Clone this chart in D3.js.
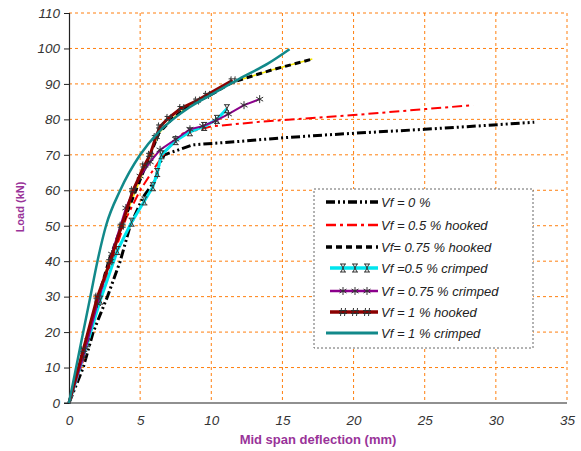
<!DOCTYPE html>
<html>
<head>
<meta charset="utf-8">
<script src="https://cdn.jsdelivr.net/npm/d3@7"></script>
<style>
  body { margin: 0; background: #fff; }
  text { font-family: "Liberation Sans", Arial, sans-serif; }
</style>
</head>
<body>
<svg width="581" height="451"></svg>
<script>
// load (kN) vs mid span deflection (mm), one array per mix
const vf0 = [[0,0],[1,10],[1.7,20],[2.7,30],[3.6,40],[4.3,50],[5.2,58],[6.1,63],[6.3,67],[6.7,70],[8.7,72.8],[12,73.8],[15,74.8],[18,75.6],[21,76.3],[25,77.2],[29,78.2],[32.7,79.2]];
const vf05h = [[0,0],[1,12],[2,27],[3,40],[4,52],[5,60],[5.8,65],[6.3,68],[7,72],[8,76],[10,78],[13.4,79.3],[20,81.2],[25,82.9],[28.4,84]];
const vf075h = [[0,0],[1,14],[2,29],[2.8,40],[3.7,50],[4.5,58],[5.2,65],[5.7,70],[6.3,76],[7.2,80],[8.5,84],[10,87],[11.5,90.5],[14.3,94],[17.1,97]];
const vf05c = [[0,0],[1.3,17],[2.2,29],[3.4,43],[4.4,51],[5.3,57],[5.9,61],[6.2,65],[6.5,70],[7.5,74],[8.5,76.5],[9.5,78],[10.4,80],[11.1,83]];
const vf075c = [[0,0],[1,13],[2,28],[3,42],[4,55],[5,64],[5.7,68],[6.4,71.4],[7.5,74.4],[8.5,77.2],[9.4,78.1],[10.3,79.6],[11.2,81.5],[12.3,84],[13.4,85.7]];
const vf1h = [[0,0],[1,15],[2,30],[2.9,40],[3.7,50],[4.5,60],[5.3,67],[5.7,70],[6.1,75],[6.4,78],[7,80.4],[7.9,83.2],[9,85.3],[9.7,86.9],[11.5,91]];
const vf1c = [[0,0],[0.5,10],[1,20],[1.5,30],[2,40],[2.6,50],[3.6,60],[5,70],[6.2,76],[7.3,80],[8.5,83.5],[10,87],[12,91.5],[14,95.8],[15.5,99.8]];

const xTicks = [0, 5, 10, 15, 20, 25, 30, 35];
const yTicks = [0, 10, 20, 30, 40, 50, 60, 70, 80, 90, 100, 110];

const series = [
  { name: 'Vf = 0 %', data: vf0, color: '#000', width: 3, dash: '9,3,2,3,2,3', curve: d3.curveLinear },
  { name: 'Vf = 0.5 % hooked', data: vf05h, color: '#ff0000', width: 2, dash: '10,4,3,4', curve: d3.curveLinear },
  { name: 'Vf= 0.75 % hooked', data: vf075h, color: '#000', width: 3, dash: '6,4', curve: d3.curveLinear, under: '#f5e600' },
  { name: 'Vf =0.5 % crimped', data: vf05c, color: '#00e5ee', width: 3, marker: 'x', curve: d3.curveLinear },
  { name: 'Vf = 0.75 % crimped', data: vf075c, color: '#8b008b', width: 2, marker: 'star', curve: d3.curveLinear },
  { name: 'Vf = 1 % hooked', data: vf1h, color: '#8b0000', width: 3, marker: 'hash', curve: d3.curveLinear },
  { name: 'Vf = 1 % crimped', data: vf1c, color: '#12898a', width: 2.5, curve: d3.curveMonotoneX }
];

const svg = d3.select('svg'),
  margin = { top: 13, left: 69 },
  width = 498,
  height = 390;

const x = d3.scaleLinear().domain([0, 35]).range([0, width]);
const y = d3.scaleLinear().domain([0, 110]).range([height, 0]);

const g = svg.append('g')
  .attr('transform', 'translate(' + margin.left + ',' + margin.top + ')');

// orange dashed grid
const grid = g.append('g').attr('stroke', '#ff7f0e').attr('stroke-width', 1).attr('stroke-dasharray', '3,3');
grid.selectAll('.gx').data(xTicks.slice(1)).enter().append('line')
  .attr('x1', d => x(d)).attr('x2', d => x(d)).attr('y1', 0).attr('y2', height);
grid.selectAll('.gy').data(yTicks.slice(1)).enter().append('line')
  .attr('x1', 0).attr('x2', width).attr('y1', d => y(d)).attr('y2', d => y(d));

// axes
const yAxis = g.append('g')
  .call(d3.axisLeft(y).tickValues(yTicks).tickSize(5).tickPadding(4));
const xAxis = g.append('g')
  .attr('transform', 'translate(0,' + height + ')')
  .call(d3.axisBottom(x).tickValues(xTicks).tickSize(0).tickPadding(12));
[yAxis, xAxis].forEach(a => {
  a.select('.domain').attr('stroke', '#222').attr('stroke-width', 1.2);
  a.selectAll('.tick line').attr('stroke', '#222');
  a.selectAll('text').attr('font-size', 13.5).attr('font-style', 'italic').attr('fill', '#333');
});
xAxis.select('.domain').attr('d', 'M-5,0H' + width);

// markers
function drawMarker(sel, type) {
  let d = '';
  if (type === 'x') d = 'M-3,-4H3M-3,4H3M-2,-4L2,4M2,-4L-2,4';
  else if (type === 'star') d = 'M0,-4V4M-3.5,-2L3.5,2M-3.5,2L3.5,-2';
  else if (type === 'hash') d = 'M-1.5,-4L-2.5,4M2.5,-4L1.5,4M-4,-1.5H4M-4,1.5H4';
  sel.append('path').attr('d', d)
    .attr('stroke', '#333').attr('stroke-width', 1).attr('fill', 'none');
}

series.forEach(s => {
  const line = d3.line().x(d => x(d[0])).y(d => y(d[1])).curve(s.curve);
  if (s.under) {
    g.append('path').datum(s.data).attr('d', line)
      .attr('fill', 'none').attr('stroke', s.under).attr('stroke-width', 1.5);
  }
  g.append('path').datum(s.data).attr('d', line)
    .attr('fill', 'none').attr('stroke', s.color).attr('stroke-width', s.width)
    .attr('stroke-dasharray', s.dash || null).attr('stroke-linejoin', 'round');
  if (s.marker) {
    g.selectAll(null).data(s.data.slice(1)).enter().append('g')
      .attr('transform', d => 'translate(' + x(d[0]) + ',' + y(d[1]) + ')')
      .each(function () { drawMarker(d3.select(this), s.marker); });
  }
});

// axis titles
svg.append('text')
  .attr('transform', 'translate(24,207) rotate(-90)')
  .attr('text-anchor', 'middle')
  .attr('font-size', 11).attr('font-weight', 'bold').attr('fill', '#993399')
  .text('Load (kN)');
svg.append('text')
  .attr('x', 318).attr('y', 444)
  .attr('text-anchor', 'middle')
  .attr('font-size', 13).attr('font-weight', 'bold').attr('fill', '#993399')
  .text('Mid span deflection (mm)');

// legend
const legend = svg.append('g');
legend.append('rect')
  .attr('x', 314).attr('y', 189).attr('width', 219).attr('height', 159)
  .attr('fill', '#fff').attr('stroke', '#666').attr('stroke-dasharray', '2,2');
const rowY = [202, 225, 247, 268, 291, 312, 333];
series.forEach((s, i) => {
  const row = legend.append('g').attr('transform', 'translate(0,' + rowY[i] + ')');
  const x0 = s.marker ? 330 : 326;
  row.append('line').attr('x1', x0).attr('x2', 378).attr('y1', 0).attr('y2', 0)
    .attr('stroke', s.color).attr('stroke-width', s.width + 0.5)
    .attr('stroke-dasharray', s.dash || null);
  if (s.marker) {
    [343, 355, 367].forEach(mx => {
      const m = row.append('g').attr('transform', 'translate(' + mx + ',0)');
      drawMarker(m, s.marker);
    });
  }
  row.append('text').attr('x', 381).attr('y', 4.5)
    .attr('font-size', 13).attr('font-style', 'italic').attr('fill', '#222')
    .text(s.name);
});
</script>
</body>
</html>
